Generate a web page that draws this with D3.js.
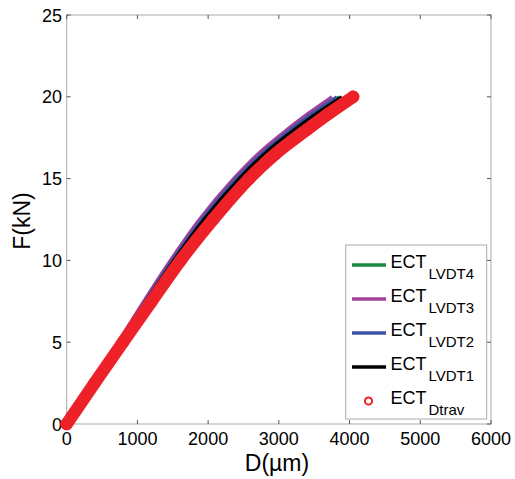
<!DOCTYPE html>
<html><head><meta charset="utf-8">
<script src="https://cdn.jsdelivr.net/npm/d3@7"></script>
<style>body{margin:0;background:#fff}svg{display:block}text{font-family:"Liberation Sans",Arial,Helvetica,sans-serif}</style>
</head><body><svg id="c" width="515" height="479"></svg>
<script>
// Force levels (kN)
const forceKN = [0, 2.5, 5, 7.5, 10, 12.5, 15, 16.5, 18, 19, 20];
// Displacement (µm) per series
const dLVDT4 = [0, 370, 742, 1115, 1500, 1922, 2418, 2765, 3190, 3505, 3855];
const dLVDT3 = [0, 362, 725, 1088, 1465, 1875, 2360, 2700, 3115, 3420, 3750];
const dLVDT2 = [0, 368, 738, 1108, 1490, 1910, 2400, 2750, 3170, 3480, 3820];
const dLVDT1 = [0, 375, 750, 1125, 1515, 1940, 2440, 2790, 3220, 3540, 3890];
const dDtrav = [0, 395, 795, 1200, 1610, 2070, 2580, 2950, 3400, 3715, 4050];
const xTicks = [0, 1000, 2000, 3000, 4000, 5000, 6000];
const yTicks = [0, 5, 10, 15, 20, 25];
const legendNames = [["ECT","LVDT4"],["ECT","LVDT3"],["ECT","LVDT2"],["ECT","LVDT1"],["ECT","Dtrav"]];
const colors = ["#1b8a47","#a3409c","#3d54a4","#000000","#ee2128"];

const svg = d3.select("#c");
const x = d3.scaleLinear().domain([0,6000]).range([66.7,491]);
const y = d3.scaleLinear().domain([0,25]).range([424,15]);

// frame
svg.append("rect").attr("x",x(0)).attr("y",y(25)).attr("width",x(6000)-x(0)).attr("height",y(0)-y(25))
  .attr("fill","none").attr("stroke","#aaa").attr("stroke-width",1);

// ticks inside on all sides
const tk = svg.append("g").attr("stroke","#555").attr("stroke-width",1);
xTicks.forEach(v=>{
  tk.append("line").attr("x1",x(v)).attr("x2",x(v)).attr("y1",y(0)).attr("y2",y(0)-4);
  tk.append("line").attr("x1",x(v)).attr("x2",x(v)).attr("y1",y(25)).attr("y2",y(25)+4);
});
yTicks.forEach(v=>{
  tk.append("line").attr("x1",x(0)).attr("x2",x(0)+4).attr("y1",y(v)).attr("y2",y(v));
  tk.append("line").attr("x1",x(6000)).attr("x2",x(6000)-4).attr("y1",y(v)).attr("y2",y(v));
});
// tick labels
svg.append("g").selectAll("text").data(xTicks).join("text")
  .attr("x",d=>x(d)).attr("y",445).attr("text-anchor","middle").attr("font-size",18).text(d=>d);
svg.append("g").selectAll("text").data(yTicks).join("text")
  .attr("x",62).attr("y",d=>y(d)+6.5).attr("text-anchor","end").attr("font-size",18).text(d=>d);

// axis titles
svg.append("text").attr("x",277).attr("y",471).attr("text-anchor","middle").attr("font-size",23).text("D(µm)");
svg.append("text").attr("transform","translate(30,221) rotate(-90)").attr("text-anchor","middle").attr("font-size",23).text("F(kN)");

// curves
const line = d3.line().x(d=>x(d[0])).y(d=>y(d[1])).curve(d3.curveMonotoneX);
const series = [dLVDT4,dLVDT3,dLVDT2,dLVDT1];
series.forEach((s,i)=>{
  svg.append("path").datum(s.map((d,j)=>[d,forceKN[j]])).attr("d",line)
    .attr("fill","none").attr("stroke",colors[i]).attr("stroke-width",3.2).attr("stroke-linejoin","round");
});
// dense red markers rendered as a thick band with circles at data points
const red = dDtrav.map((d,j)=>[d,forceKN[j]]);
svg.append("path").datum(red).attr("d",line).attr("fill","none").attr("stroke",colors[4])
  .attr("stroke-width",12.5).attr("stroke-linecap","round").attr("stroke-linejoin","round");
svg.append("g").selectAll("circle").data(red).join("circle")
  .attr("cx",d=>x(d[0])).attr("cy",d=>y(d[1])).attr("r",5).attr("fill",colors[4]).attr("stroke",colors[4]).attr("stroke-width",2.5);

// legend
const lg = svg.append("g");
lg.append("rect").attr("x",345.7).attr("y",245).attr("width",141).attr("height",174)
  .attr("fill","#fff").attr("stroke","#aaa").attr("stroke-width",1);
legendNames.forEach((n,i)=>{
  const by = 268 + i*34;
  if(i<4){
    lg.append("line").attr("x1",352).attr("x2",386).attr("y1",by-3).attr("y2",by-3)
      .attr("stroke",colors[i]).attr("stroke-width",3.5);
  } else {
    lg.append("circle").attr("cx",368.5).attr("cy",by-3).attr("r",3.6)
      .attr("fill","none").attr("stroke",colors[i]).attr("stroke-width",2);
  }
  const t = lg.append("text").attr("x",390.5).attr("y",by).attr("font-size",18);
  t.append("tspan").text(n[0]);
  t.append("tspan").attr("font-size",15).attr("dx",2).attr("dy",11).text(n[1]);
});
</script></body></html>
